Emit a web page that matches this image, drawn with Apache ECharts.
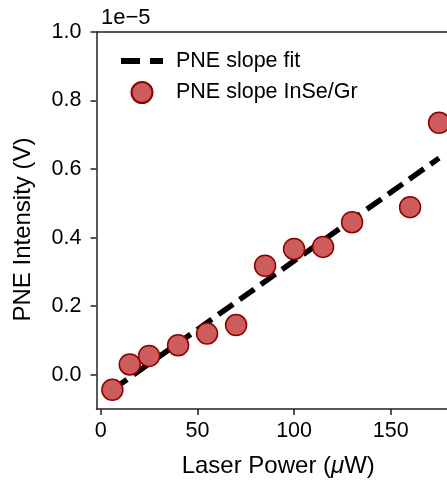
<!DOCTYPE html>
<html>
<head>
<meta charset="utf-8">
<script src="https://cdn.jsdelivr.net/npm/echarts@6/dist/echarts.min.js"></script>
<style>html,body{margin:0;padding:0;background:#fff}#c{width:447px;height:484px}</style>
</head>
<body>
<div id="c"></div>
<script>
// Laser power (µW)
var laserPower = [6, 15, 25, 40, 55, 70, 85, 100, 115, 130, 160, 175];
// PNE intensity (V), in units of 1e-5
var pneIntensity = [-0.044, 0.030, 0.055, 0.086, 0.120, 0.145, 0.318, 0.367, 0.373, 0.445, 0.489, 0.735];
// linear fit endpoints (x, y in 1e-5 V)
var fitX = [6, 175];
var fitY = [-0.044, 0.632];
var xTicks = [0, 50, 100, 150];
var yTicks = [0.0, 0.2, 0.4, 0.6, 0.8, 1.0];

var FONT = "'Liberation Sans', Arial, sans-serif";
var dashIcon = 'path://M0,0h0.01v0.01h-0.01z M0,7.5h19v6h-19z M29,7.5h13v6h-13z M41.99,20.99h0.01v0.01h-0.01z';
var chart = echarts.init(document.getElementById('c'), null, {renderer: 'canvas'});
chart.setOption({
  animation: false,
  backgroundColor: '#fff',
  title: {
    text: '1e\u22125', left: 96, top: 2,
    textStyle: {fontFamily: FONT, fontSize: 22, fontWeight: 'normal', color: '#000'}
  },
  grid: {
    left: 96.5, top: 32, bottom: 75, right: 0, show: false
  },
  legend: {
    orient: 'vertical', left: 116, top: 45,
    itemWidth: 42, itemHeight: 21, itemGap: 9,
    textStyle: {fontFamily: FONT, fontSize: 21.5, color: '#000', padding: [0, 0, 0, 8]},
    data: [
      {name: 'PNE slope fit', icon: dashIcon, itemStyle: {color: '#000', borderWidth: 0}},
      {name: 'PNE slope InSe/Gr', icon: 'circle'}
    ]
  },
  xAxis: [{
    type: 'value', min: -2.2, max: 179.1,
    name: 'Laser Power ({i|\u03bc}W)', nameLocation: 'middle', nameGap: 45,
    nameTextStyle: {fontFamily: FONT, fontSize: 24, color: '#000', padding: [0, 0, 0, 13],
      rich: {i: {fontFamily: FONT, fontSize: 24, fontStyle: 'italic', color: '#000'}}},
    splitLine: {show: false},
    axisLine: {show: true, onZero: false, lineStyle: {color: '#222', width: 1.5}},
    axisTick: {show: true, inside: false, length: 6, customValues: xTicks, lineStyle: {color: '#222', width: 1.5}},
    axisLabel: {customValues: xTicks, margin: 11, fontFamily: FONT, fontSize: 21.5, color: '#000'}
  }, {
    type: 'value', position: 'top', min: -2.2, max: 179.1,
    splitLine: {show: false},
    axisLine: {show: true, onZero: false, lineStyle: {color: '#222', width: 1.5}},
    axisTick: {show: false}, axisLabel: {show: false}
  }],
  yAxis: {
    type: 'value', min: -0.1, max: 1.0,
    name: 'PNE Intensity (V)', nameLocation: 'middle', nameGap: 61,
    nameTextStyle: {fontFamily: FONT, fontSize: 24, color: '#000', padding: [0, 18, 0, 0]},
    splitLine: {show: false},
    axisLine: {show: true, onZero: false, lineStyle: {color: '#222', width: 1.5}},
    axisTick: {show: true, inside: false, length: 6, customValues: yTicks, lineStyle: {color: '#222', width: 1.5}},
    axisLabel: {customValues: yTicks, margin: 15, fontFamily: FONT, fontSize: 21.5, color: '#000',
      formatter: function (v) { return v.toFixed(1); }}
  },
  series: [
    {
      name: 'PNE slope fit', type: 'line', symbol: 'none',
      data: fitX.map(function (x, i) { return [x, fitY[i]]; }),
      lineStyle: {color: '#000', width: 5.5, type: [18, 8], cap: 'butt'},
      itemStyle: {color: '#000'},
      z: 2
    },
    {
      name: 'PNE slope InSe/Gr', type: 'scatter', symbol: 'circle', symbolSize: 21,
      data: laserPower.map(function (x, i) { return [x, pneIntensity[i]]; }),
      itemStyle: {color: '#cd5c5c', borderColor: '#8b0000', borderWidth: 1.5, opacity: 1},
      z: 3
    }
  ]
});
</script>
</body>
</html>
